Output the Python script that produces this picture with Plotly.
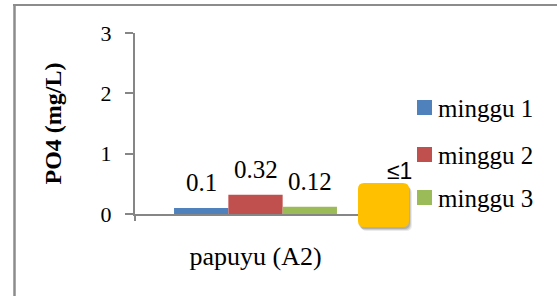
import plotly.graph_objects as go

# ---- data ----
categories = ["papuyu (A2)"]
series_names = ["minggu 1", "minggu 2", "minggu 3"]
series_values = [[0.1], [0.32], [0.12]]
series_labels = ["0.1", "0.32", "0.12"]
series_colors = ["#4F81BD", "#C0504D", "#9BBB59"]
y_ticks = [0, 1, 2, 3]
y_title = "PO4 (mg/L)"
note_text = "\u22641"

# ---- layout geometry (pixels) ----
FW, FH = 557, 297
L, R, T, B = 135, 376, 33, 214
W, H = R - L, B - T
BARGAP = 0.324


def px_x(px):
    return (px - L) / W


def px_y(py):
    return (B - py) / H


SERIF = "Liberation Serif"
SANS = "Liberation Sans"

fig = go.Figure()
for name, vals, col in zip(series_names, series_values, series_colors):
    fig.add_trace(go.Bar(x=categories, y=vals, name=name, marker_color=col,
                         marker_line_width=0, showlegend=False))

shapes = []
annotations = []

# data labels above bars
n = len(series_names)
bw = (1 - BARGAP) / n
for i, (vals, lab) in enumerate(zip(series_values, series_labels)):
    off = (i - (n - 1) / 2) * bw
    annotations.append(dict(x=off, y=vals[0], xref="x", yref="y", text=lab,
                            showarrow=False, yanchor="bottom", yshift=10,
                            font=dict(family=SERIF, size=25, color="black")))

# outer chart border: top edge in short segments, left edge as strip
xs = list(range(13, 557, 40)) + [556]
for a, b in zip(xs[:-1], xs[1:]):
    shapes.append(dict(type="line", xref="paper", yref="paper",
                       x0=px_x(a), x1=px_x(b + 1), y0=px_y(5), y1=px_y(5),
                       line=dict(color="#8C8C8C", width=2), layer="above"))
shapes.append(dict(type="line", xref="paper", yref="paper",
                   x0=px_x(14.5), x1=px_x(14.5), y0=px_y(296), y1=px_y(4),
                   line=dict(color="#8C8C8C", width=2.5), layer="above"))

# manual legend
leg_y = [107.5, 154.5, 197.5]
for name, col, cy in zip(series_names, series_colors, leg_y):
    shapes.append(dict(type="rect", xref="paper", yref="paper",
                       x0=px_x(417), x1=px_x(432), y0=px_y(cy + 7.5), y1=px_y(cy - 7.5),
                       fillcolor=col, line=dict(width=0), layer="above"))
    annotations.append(dict(x=px_x(436), y=px_y(cy + 1), xref="paper", yref="paper",
                            text=name, showarrow=False, xanchor="left", yanchor="middle",
                            font=dict(family=SERIF, size=25, color="black")))


def rounded_path(x0, y0, x1, y1, r):
    rx, ry = r / W, r / H
    X0, X1 = px_x(x0), px_x(x1)
    Yt, Yb = px_y(y0), px_y(y1)
    return (f"M{X0+rx},{Yt} L{X1-rx},{Yt} Q{X1},{Yt} {X1},{Yt-ry} "
            f"L{X1},{Yb+ry} Q{X1},{Yb} {X1-rx},{Yb} L{X0+rx},{Yb} "
            f"Q{X0},{Yb} {X0},{Yb+ry} L{X0},{Yt-ry} Q{X0},{Yt} {X0+rx},{Yt} Z")


# shadow + yellow rounded box
for d, a in [(4, 0.08), (3, 0.12), (2, 0.15)]:
    shapes.append(dict(type="path", xref="paper", yref="paper",
                       path=rounded_path(358 + d - 1, 183 + d, 409 + d - 1, 227 + d, 6),
                       fillcolor=f"rgba(0,0,0,{a})", line=dict(width=0), layer="above"))
shapes.append(dict(type="path", xref="paper", yref="paper",
                   path=rounded_path(358, 183, 409, 227, 6),
                   fillcolor="#FFC000", line=dict(width=0), layer="above"))
annotations.append(dict(x=px_x(399), y=px_y(171), xref="paper", yref="paper",
                        text=note_text, showarrow=False, xanchor="center", yanchor="middle",
                        font=dict(family=SANS, size=23, color="black")))

fig.update_layout(
    width=FW, height=FH,
    margin=dict(l=L, r=FW - R, t=T, b=FH - B, pad=0),
    paper_bgcolor="white", plot_bgcolor="white",
    barmode="group", bargap=BARGAP, bargroupgap=0,
    showlegend=False,
    shapes=shapes, annotations=annotations,
    xaxis=dict(showline=True, linecolor="#868686", linewidth=2,
               ticks="outside", tickson="boundaries", ticklen=5, tickcolor="#868686",
               tickwidth=2, showgrid=False, zeroline=False,
               tickfont=dict(family=SERIF, size=26, color="black"),
               ticklabelstandoff=18),
    yaxis=dict(range=[0, 3], tickvals=y_ticks, showline=True, linecolor="#868686",
               linewidth=2, ticks="outside", ticklen=8, tickcolor="#868686", tickwidth=2,
               showgrid=False, zeroline=False,
               tickfont=dict(family=SERIF, size=22, color="black"),
               ticklabelstandoff=9,
               title=dict(text="<b>" + y_title + "</b>", standoff=32,
                          font=dict(family=SERIF, size=24, color="black"))),
)

fig.write_html("out.html", config={"displayModeBar": False},
               post_script="document.body.style.margin='0px';")
